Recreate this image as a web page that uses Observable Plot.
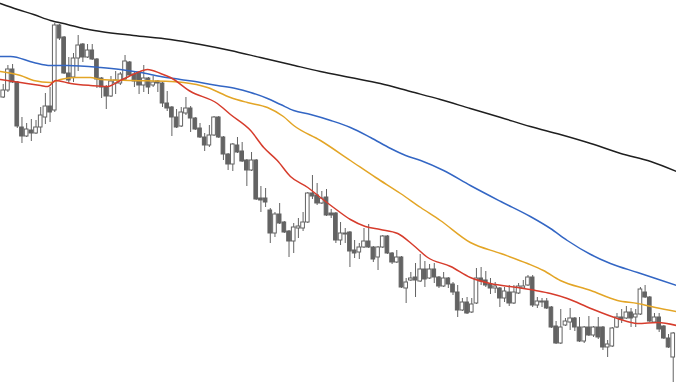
<!DOCTYPE html>
<html>
<head>
<meta charset="utf-8">
<script src="https://cdn.jsdelivr.net/npm/d3@7"></script>
<script src="https://cdn.jsdelivr.net/npm/@observablehq/plot@0.6"></script>
<style>
  html, body { margin: 0; padding: 0; background: #fff; }
  #chart svg { display: block; }
</style>
</head>
<body>
<div id="chart"></div>
<script>
// Daily candles (index 0..143), prices
const open = [140.3,141.0,143.1,141.8,137.3,136.4,137.0,136.7,137.3,138.3,139.4,139.0,147.5,146.3,142.7,142.3,144.2,145.6,144.3,145.0,
144.1,142.2,141.3,140.4,141.7,141.7,142.1,143.8,142.6,142.8,141.5,142.2,141.5,141.9,141.7,139.7,139.3,138.3,137.4,138.7,
139.2,138.2,137.2,136.3,135.5,136.5,138.3,136.3,134.6,133.6,135.5,134.9,134.0,133.0,134.0,130.2,130.2,129.0,126.7,128.6,
127.8,126.9,125.9,127.2,127.2,127.8,130.7,130.5,129.7,130.3,128.7,128.7,126.0,126.6,126.8,125.0,124.8,125.3,125.9,125.3,
124.3,125.3,126.4,124.7,123.8,124.3,121.2,122.0,122.3,121.9,123.1,122.2,123.1,122.3,121.4,122.2,121.6,120.8,119.0,119.8,
118.8,119.7,122.2,122.0,121.6,121.2,121.2,120.2,120.8,119.7,120.7,121.2,121.5,122.3,119.5,119.9,119.9,119.3,117.4,115.7,
117.5,117.8,118.2,117.3,115.9,117.3,116.5,117.3,117.3,115.3,115.4,117.3,118.3,118.2,118.8,118.3,118.6,120.8,120.3,117.8,
118.3,117.4,116.2,114.3];
const high = [141.6,143.5,143.6,141.9,138.3,137.7,138.1,138.0,139.3,140.7,141.3,147.7,147.6,146.4,144.3,144.7,146.5,145.7,145.6,145.6,
144.2,142.3,141.5,142.4,142.9,142.8,144.5,143.9,142.8,142.9,143.5,142.3,142.4,142.0,141.8,140.9,139.4,139.1,139.3,140.3,
139.4,138.3,137.7,136.7,137.5,138.4,138.4,136.4,134.7,135.7,136.3,135.8,134.1,134.8,134.1,131.4,131.2,129.2,128.8,129.7,
127.9,127.0,127.7,128.2,128.8,130.8,132.5,131.7,130.9,131.1,129.1,128.8,127.8,127.2,126.9,126.0,125.7,127.2,127.6,125.4,
125.4,126.5,126.5,124.8,125.0,124.4,122.2,122.8,123.7,124.6,123.9,123.6,123.7,122.4,122.8,122.3,121.8,121.5,120.2,120.3,
120.2,123.2,123.3,122.9,122.2,121.8,121.3,121.3,121.5,121.5,121.7,122.0,122.5,122.5,120.3,120.2,120.2,119.4,117.9,119.1,
118.2,119.2,118.3,118.3,117.4,118.4,117.4,118.3,117.4,116.0,117.3,118.7,119.1,119.4,119.2,119.1,121.3,121.5,120.4,118.7,
118.7,117.5,116.6,116.8];
const low = [140.2,140.8,141.7,137.2,135.7,136.3,135.9,136.6,136.7,137.6,137.8,138.8,146.0,142.6,141.7,141.8,142.9,143.8,144.2,144.0,
141.2,140.2,139.1,140.3,140.6,141.5,142.0,142.4,141.3,140.6,140.8,140.6,141.3,140.8,139.3,138.9,136.4,137.2,137.3,138.5,
136.8,137.0,136.2,134.9,135.3,136.4,136.2,134.0,133.0,132.9,134.7,133.8,131.4,132.9,130.0,128.8,129.3,125.7,126.3,127.6,
126.7,124.3,124.7,126.2,126.9,127.7,130.1,129.5,129.6,128.4,128.2,125.7,125.5,125.7,123.3,124.2,124.1,125.2,125.2,123.8,
123.0,125.2,124.6,123.6,123.7,121.2,119.7,121.9,120.3,121.8,121.3,122.1,121.7,121.2,121.3,121.2,120.5,118.3,118.9,118.6,
118.7,119.6,121.5,121.3,120.6,120.7,119.3,119.8,119.4,119.6,120.6,121.1,121.4,119.3,119.2,119.3,119.1,117.2,115.6,115.6,
117.4,117.0,116.9,115.8,115.7,116.4,116.3,116.1,115.0,114.3,115.3,117.2,117.7,118.1,117.3,117.3,118.5,120.2,117.8,117.7,
116.8,116.1,115.2,111.8];
const close = [141.0,143.1,141.8,137.4,136.4,137.1,136.7,137.3,138.5,139.4,138.8,147.5,146.2,142.7,142.0,144.2,145.5,144.3,145.0,144.1,
142.1,141.3,140.4,141.9,142.0,142.6,143.9,142.5,141.9,141.5,142.2,141.3,141.8,141.7,139.7,139.2,138.3,137.3,138.8,139.2,
138.2,137.1,136.3,135.5,136.5,138.3,136.3,134.6,133.6,135.6,134.8,133.9,133.0,134.0,130.1,130.0,129.8,126.7,128.6,127.7,
126.8,125.9,127.3,127.4,127.8,130.7,130.4,129.7,130.2,128.5,128.5,126.0,126.7,126.7,124.9,124.7,125.3,125.9,125.3,124.1,
125.3,126.4,124.7,123.8,124.3,121.3,121.8,122.2,122.0,123.1,122.1,123.1,122.3,121.4,122.2,121.6,120.8,119.0,119.8,118.7,
119.6,122.2,121.9,121.5,121.2,121.4,120.2,120.9,119.7,120.8,121.4,121.4,122.3,119.5,119.9,119.8,119.2,117.3,115.7,117.3,
117.9,118.2,117.3,115.9,117.3,116.5,117.3,116.3,115.3,115.6,117.2,118.3,118.1,118.8,118.2,118.6,121.1,120.3,117.9,118.3,
117.1,116.2,115.3,116.7];

// Moving averages read at sampled candle positions: [index, value]
const maLong = [[-0.6,149.7],[3.1,149.1],[6.5,148.6],[10.1,148.0],[13.7,147.6],[17.1,147.2],[20.8,146.9],[27.8,146.5],[35.7,146.1],
[42.1,145.6],[48.5,145.0],[54.9,144.3],[61.3,143.6],[67.7,142.9],[74.1,142.3],[80.5,141.7],[86.9,140.9],[93.3,140.1],[99.7,139.2],
[106.2,138.3],[112.5,137.4],[118.9,136.6],[125.4,135.7],[131.8,134.7],[138.2,133.9],[143.7,132.9]];
const maBlue = [[-0.6,144.4],[1.6,144.4],[6.5,143.8],[10.1,143.5],[13.7,143.5],[20.8,143.3],[25.0,143.1],[29.3,142.8],[33.6,142.4],
[37.8,142.1],[42.1,141.8],[45.7,141.5],[49.6,141.2],[52.8,140.8],[56.4,140.2],[59.2,139.6],[62.0,139.0],[65.6,138.6],[69.9,138.0],
[74.1,137.3],[78.4,136.3],[82.7,135.2],[85.9,134.5],[89.1,134.0],[94.0,133.0],[99.7,131.5],[106.2,129.9],[112.5,128.4],[116.8,127.2],
[120.4,126.0],[125.4,124.6],[129.6,123.7],[135.4,122.8],[139.9,122.1],[143.7,121.5]];
const maOrange = [[-0.6,142.9],[3.7,142.5],[6.5,142.0],[10.1,141.8],[12.2,142.1],[15.4,142.3],[18.6,142.3],[20.8,142.1],[27.8,142.0],
[35.7,141.9],[38.5,141.8],[43.6,141.3],[48.5,140.3],[52.1,139.8],[56.4,139.3],[59.8,138.4],[62.0,137.5],[67.7,136.0],[74.1,134.0],
[79.5,132.3],[84.8,130.7],[89.1,129.3],[93.3,128.0],[99.7,125.8],[106.2,124.7],[111.9,123.7],[115.3,123.0],[118.9,122.0],[125.4,121.0],
[131.1,120.0],[135.4,119.7],[139.2,119.3],[143.7,118.9]];
const maRed = [[-0.6,142.1],[3.7,141.8],[8.0,141.5],[9.5,141.4],[11.2,142.0],[14.4,141.7],[18.6,141.5],[22.3,141.4],[25.0,142.0],
[28.2,142.7],[30.8,143.1],[33.6,142.7],[35.7,142.3],[40.0,140.9],[45.7,139.7],[48.5,138.6],[52.8,137.0],[55.6,135.3],[58.5,134.0],
[61.3,132.4],[65.0,131.3],[67.7,130.3],[70.5,129.3],[74.1,128.1],[77.3,127.4],[80.5,127.1],[84.2,126.7],[87.6,125.5],[90.6,124.3],
[95.5,123.4],[99.7,122.3],[104.0,121.7],[109.8,121.3],[113.6,121.0],[116.8,120.7],[120.4,120.2],[125.4,119.2],[131.1,118.2],
[135.4,117.7],[139.7,117.8],[143.7,117.5]];

const candles = open.map((o, i) => ({i, open: o, high: high[i], low: low[i], close: close[i]}));
const toPts = arr => arr.map(([i, v]) => ({i, v}));

const gray = "#636363";
const half = 0.39;

const chart = Plot.plot({
  width: 676,
  height: 383,
  margin: 0,
  x: {type: "linear", domain: [-0.58, 143.7], axis: null},
  y: {domain: [111.7, 150], axis: null},
  marks: [
    Plot.ruleX(candles, {x: "i", y1: "low", y2: "high", stroke: gray, strokeWidth: 1}),
    Plot.rect(candles, {
      x1: d => d.i - half, x2: d => d.i + half,
      y1: "open", y2: "close",
      fill: d => d.close >= d.open ? "#ffffff" : gray,
      stroke: gray, strokeWidth: 1
    }),
    Plot.line(toPts(maLong), {x: "i", y: "v", stroke: "#1f1f1f", strokeWidth: 1.5, curve: "monotone-x"}),
    Plot.line(toPts(maBlue), {x: "i", y: "v", stroke: "#3366c4", strokeWidth: 1.5, curve: "monotone-x"}),
    Plot.line(toPts(maOrange), {x: "i", y: "v", stroke: "#e3a526", strokeWidth: 1.5, curve: "monotone-x"}),
    Plot.line(toPts(maRed), {x: "i", y: "v", stroke: "#d63c2c", strokeWidth: 1.5, curve: "monotone-x"})
  ]
});
document.getElementById("chart").appendChild(chart);
</script>
</body>
</html>
